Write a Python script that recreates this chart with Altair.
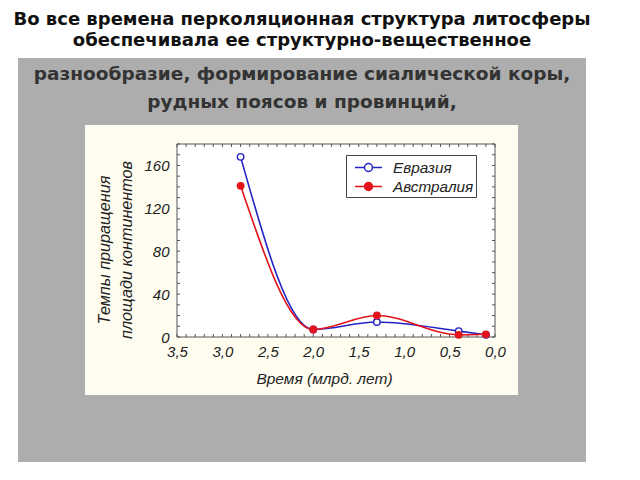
import altair as alt
import pandas as pd

# ---- data ----
years = [2.8, 2.0, 1.3, 0.4, 0.1]
eurasia = [168, 7, 14, 5.5, 2]
australia = [141, 7, 20, 2, 2.5]
series_names = ["Евразия", "Австралия"]

x_major = [3.5, 3.0, 2.5, 2.0, 1.5, 1.0, 0.5, 0.0]
y_major = [0, 40, 80, 120, 160]
x_minor = [0.0, 0.1, 0.2, 0.3, 0.4, 0.5, 0.6, 0.7, 0.8, 0.9, 1.0, 1.1, 1.2,
           1.3, 1.4, 1.5, 1.6, 1.7, 1.8, 1.9, 2.0, 2.1, 2.2, 2.3, 2.4, 2.5,
           2.6, 2.7, 2.8, 2.9, 3.0, 3.1, 3.2, 3.3, 3.4, 3.5]
y_minor = [0, 10, 20, 30, 40, 50, 60, 70, 80, 90, 100, 110, 120, 130, 140,
           150, 160, 170, 180]

title_lines = ["Во все времена перколяционная структура литосферы",
               "обеспечивала ее структурно-вещественное"]
box_lines = ["разнообразие,  формирование сиалической коры,",
             "рудных поясов и провинций,"]
x_title = "Время (млрд. лет)"
y_title = ["Темпы приращения", "площади континентов"]

# ---- tables ----
df = pd.DataFrame({
    "year": years * 2,
    "value": eurasia + australia,
    "series": [series_names[0]] * len(years) + [series_names[1]] * len(years),
})
one = pd.DataFrame({"k": [0]})
xt = pd.DataFrame({"year": x_minor})
yt = pd.DataFrame({"value": y_minor})

W, H = 318, 193
BLUE = "#2424c4"
RED = "#e3141c"
CHART_FONT = "Liberation Sans"
SLIDE_FONT = "DejaVu Sans"

xscale = alt.Scale(domain=[0, 3.5], reverse=True, nice=False, zero=False)
yscale = alt.Scale(domain=[0, 180], nice=False)
cscale = alt.Scale(domain=series_names, range=[BLUE, RED])
fscale = alt.Scale(domain=series_names, range=["#ffffff", RED])

x_axis = alt.Axis(
    values=x_major, labelExpr="replace(format(datum.value, '.1f'), '.', ',')",
    grid=False, ticks=False, domain=False, tickSize=0, labelPadding=7,
    labelFlush=False, labelFont=CHART_FONT, labelFontSize=15,
    labelFontStyle="italic", labelColor="#222",
    title=x_title, titleFont=CHART_FONT, titleFontSize=15.5,
    titleFontStyle="italic", titleFontWeight="normal", titleColor="#222",
    titleX=147, titleY=46, titleBaseline="alphabetic", titleAlign="center",
    zindex=1,
)
y_axis = alt.Axis(
    values=y_major, grid=False, ticks=False, domain=False, tickSize=0,
    labelPadding=8, labelFlush=False, labelFont=CHART_FONT, labelFontSize=15,
    labelFontStyle="italic", labelColor="#222", title=None, zindex=1,
)

# ---- slide decorations ----
gray = alt.Chart(one).mark_rect(color="#adadad").encode(
    x=alt.value(-159), x2=alt.value(409), y=alt.value(-86), y2=alt.value(318))
cream = alt.Chart(one).mark_rect(color="#fffdf0").encode(
    x=alt.value(-92), x2=alt.value(341), y=alt.value(-19), y2=alt.value(251))
plotbg = alt.Chart(one).mark_rect(fill="white", stroke="#555", strokeWidth=1).encode(
    x=alt.value(0), x2=alt.value(W), y=alt.value(0), y2=alt.value(H))

title_txt = alt.Chart(one).mark_text(
    text=title_lines, font=SLIDE_FONT, fontSize=18, fontWeight="bold",
    color="#111", align="center", baseline="alphabetic", lineHeight=20.5,
).encode(x=alt.value(125), y=alt.value(-119))
box_txt = alt.Chart(one).mark_text(
    text=box_lines, font=SLIDE_FONT, fontSize=18.5, fontWeight="bold",
    color="#333", align="center", baseline="alphabetic", lineHeight=28,
).encode(x=alt.value(125), y=alt.value(-64))
ytitle_txt = alt.Chart(one).mark_text(
    text=y_title, font=CHART_FONT, fontSize=16.2, fontStyle="italic",
    color="#222", align="center", baseline="middle", lineHeight=22, angle=270,
).encode(x=alt.value(-72), y=alt.value(106))

# ---- inward frame ticks ----
tick_style = dict(color="#555", strokeWidth=1)
xb = alt.Chart(xt).mark_rule(**tick_style).encode(
    x=alt.X("year:Q", scale=xscale, axis=x_axis), y=alt.value(H), y2=alt.value(H - 3))
xtp = alt.Chart(xt).mark_rule(**tick_style).encode(
    x=alt.X("year:Q", scale=xscale, axis=x_axis), y=alt.value(0), y2=alt.value(3))
yl = alt.Chart(yt).mark_rule(**tick_style).encode(
    y=alt.Y("value:Q", scale=yscale, axis=y_axis), x=alt.value(0), x2=alt.value(3))
yr = alt.Chart(yt).mark_rule(**tick_style).encode(
    y=alt.Y("value:Q", scale=yscale, axis=y_axis), x=alt.value(W), x2=alt.value(W - 3))

# ---- data series ----
def make_legend():
    return alt.Legend(
        orient="none", legendX=169, legendY=11, title=None,
        symbolType="M-1.385,0L-0.41,0M0.41,0L1.385,0M-0.41,0A0.41,0.41,0,1,1,0.41,0A0.41,0.41,0,1,1,-0.41,0Z",
        symbolSize=380, symbolStrokeWidth=1.5, symbolOffset=10,
        labelFont=CHART_FONT, labelFontSize=15.3, labelFontStyle="italic",
        labelColor="#222", labelOffset=14,
        fillColor="white", strokeColor="#444", padding=2, rowPadding=0,
        zindex=1,
    )

lines = alt.Chart(df).mark_line(
    interpolate="monotone", strokeWidth=1.6, clip=True
).encode(
    x=alt.X("year:Q", scale=xscale, axis=x_axis),
    y=alt.Y("value:Q", scale=yscale, axis=y_axis),
    color=alt.Color("series:N", scale=cscale, sort=series_names, legend=make_legend()),
)
points = alt.Chart(df).mark_point(
    filled=False, size=42, strokeWidth=1.4, opacity=1
).encode(
    x=alt.X("year:Q", scale=xscale, axis=x_axis),
    y=alt.Y("value:Q", scale=yscale, axis=y_axis),
    color=alt.Color("series:N", scale=cscale, sort=series_names, legend=make_legend()),
    fill=alt.Fill("series:N", scale=fscale, sort=series_names, legend=make_legend()),
    fillOpacity=alt.value(1),
)

chart = alt.layer(
    gray, cream, plotbg, title_txt, box_txt, ytitle_txt,
    xb, xtp, yl, yr, lines, points
).properties(
    width=W, height=H,
    autosize=alt.AutoSizeParams(type="none"),
    padding={"left": 169, "top": 136, "right": 125, "bottom": 128},
    background="white",
).configure_view(stroke="transparent")

chart.save("out.html", embed_options={"renderer": "svg", "actions": False})
